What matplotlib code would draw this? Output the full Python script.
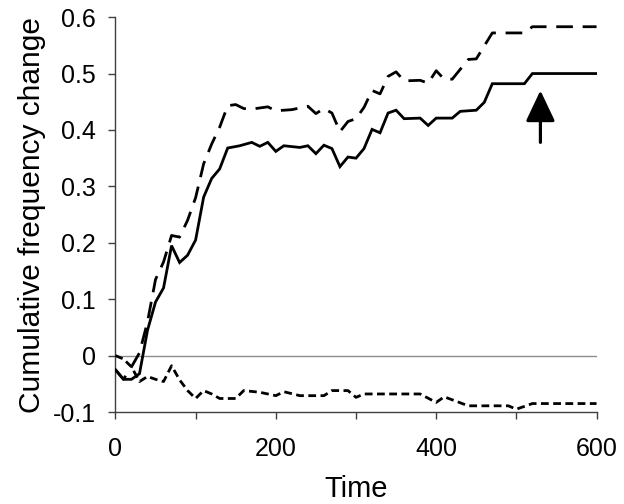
import matplotlib
matplotlib.use("Agg")
import matplotlib.pyplot as plt

# ---- data ----
solid_t = [0, 10, 20, 30, 40, 50, 60, 70, 80, 90, 100, 110, 120, 130, 140, 155, 170, 180,
           190, 200, 210, 230, 240, 250, 260, 270, 280, 290, 300, 310, 320, 330, 340, 350,
           360, 380, 390, 400, 420, 430, 450, 460, 470, 510, 520, 600]
solid_v = [-0.025, -0.042, -0.042, -0.032, 0.045, 0.095, 0.12, 0.195, 0.165, 0.178, 0.205,
           0.281, 0.314, 0.331, 0.368, 0.372, 0.378, 0.371, 0.378, 0.362, 0.372, 0.369,
           0.372, 0.358, 0.373, 0.367, 0.335, 0.352, 0.35, 0.367, 0.401, 0.395, 0.43,
           0.435, 0.42, 0.421, 0.408, 0.421, 0.421, 0.433, 0.435, 0.449, 0.482, 0.482,
           0.5, 0.5]

dashed_t = [0, 10, 20, 30, 40, 50, 60, 70, 80, 90, 100, 110, 120, 130, 140, 150, 160, 170,
            190, 200, 220, 240, 250, 260, 270, 280, 290, 300, 310, 320, 330, 340, 350, 360,
            380, 390, 400, 410, 420, 440, 450, 470, 510, 520, 600]
dashed_v = [-0.025, -0.042, -0.02, 0.005, 0.06, 0.135, 0.166, 0.213, 0.21, 0.24, 0.28,
            0.34, 0.375, 0.405, 0.443, 0.445, 0.438, 0.437, 0.441, 0.434, 0.436, 0.442,
            0.429, 0.438, 0.43, 0.397, 0.415, 0.42, 0.44, 0.47, 0.464, 0.495, 0.503,
            0.487, 0.488, 0.483, 0.505, 0.49, 0.49, 0.525, 0.526, 0.572, 0.572, 0.583,
            0.583]

dotted_t = [0, 10, 20, 30, 40, 50, 60, 70, 80, 90, 100, 110, 120, 130, 150, 160, 180, 200,
            210, 230, 260, 270, 290, 300, 310, 380, 400, 410, 440, 490, 500, 520, 600]
dotted_v = [0.0, -0.006, -0.02, -0.046, -0.037, -0.042, -0.046, -0.018, -0.043, -0.062,
            -0.076, -0.062, -0.068, -0.076, -0.076, -0.062, -0.065, -0.071, -0.064, -0.071,
            -0.071, -0.062, -0.062, -0.074, -0.068, -0.068, -0.083, -0.073, -0.089, -0.089,
            -0.095, -0.085, -0.085]

x_ticks = [0, 100, 200, 300, 400, 500, 600]
x_tick_labels = ["0", "", "200", "", "400", "", "600"]
y_ticks = [-0.1, 0, 0.1, 0.2, 0.3, 0.4, 0.5, 0.6]
y_tick_labels = ["-0.1", "0", "0.1", "0.2", "0.3", "0.4", "0.5", "0.6"]

arrow_time = 530
arrow_tail = 0.378
arrow_tip = 0.47

plt.rcParams['font.family'] = ['Liberation Sans', 'DejaVu Sans']

fig = plt.figure(figsize=(6.24, 5.04), dpi=100)
ax = fig.add_axes([0.185, 0.1825, 0.771, 0.7835])

ax.axhline(0, color='#8c8c8c', lw=1.0, zorder=1)

ax.plot(solid_t, solid_v, color='black', lw=2.0, solid_joinstyle='miter', zorder=3)
ax.plot(dashed_t, dashed_v, color='black', lw=2.0, dashes=(6, 3.5), zorder=3)
ax.plot(dotted_t, dotted_v, color='black', lw=2.0, dashes=(2.8, 1.6), zorder=3)

ax.annotate('', xy=(arrow_time, arrow_tip), xytext=(arrow_time, arrow_tail),
            arrowprops=dict(arrowstyle='-|>,head_length=0.95,head_width=0.45',
                            lw=2.3, color='black', shrinkA=0, shrinkB=0,
                            mutation_scale=20))

ax.set_xlim(0, 600)
ax.set_ylim(-0.1, 0.6)
ax.set_xticks(x_ticks)
ax.set_xticklabels(x_tick_labels)
ax.set_yticks(y_ticks)
ax.set_yticklabels(y_tick_labels)

for s in ['top', 'right']:
    ax.spines[s].set_visible(False)
for s in ['left', 'bottom']:
    ax.spines[s].set_color('#404040')
    ax.spines[s].set_linewidth(1.0)

ax.tick_params(axis='both', direction='out', length=5, width=1, color='#404040',
               labelsize=18, pad=9)
ax.tick_params(axis='x', pad=13)

ax.set_xlabel('Time', fontsize=21, labelpad=10)
ax.set_ylabel('Cumulative frequency change', fontsize=21.5, labelpad=5)

fig.savefig('out.png', dpi=100)
